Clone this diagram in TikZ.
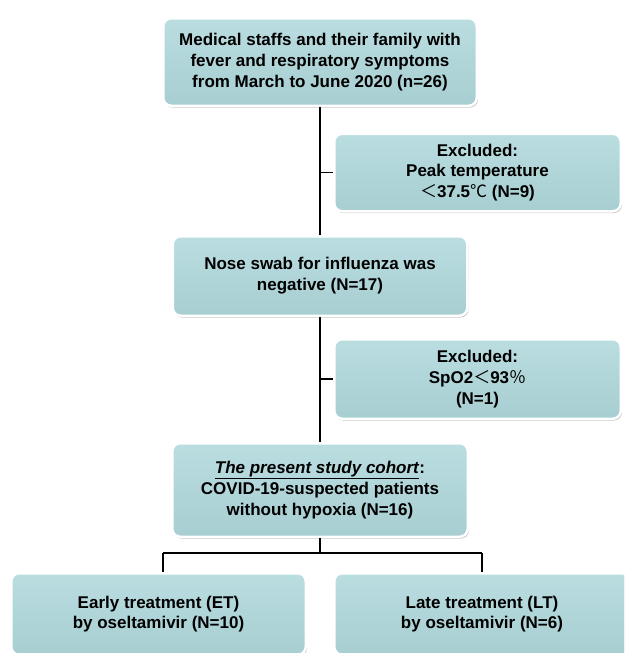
\documentclass[tikz,border=0pt]{standalone}
\usepackage{fontspec}
\setmainfont{Liberation Sans}
\newfontfamily\cjk{Noto Sans CJK SC}
\newcommand{\cjkmd}[1]{{\cjk\mdseries #1}}
\usetikzlibrary{shadows}
\definecolor{boxtop}{HTML}{BADDE0}
\definecolor{boxbot}{HTML}{A7CED1}
\begin{document}
\begin{tikzpicture}[x=1pt,y=-1pt,
  box/.style={rounded corners=8pt, draw=white, line width=2.5pt,
    top color=boxtop, bottom color=boxbot,
    drop shadow={shadow xshift=1.2pt, shadow yshift=-1.8pt, opacity=0.45},
    align=center, inner sep=0pt,
    font=\fontsize{17}{20.8}\selectfont\bfseries},
  conn/.style={line width=1.5pt, black}]
\useasboundingbox (0,0) rectangle (624,653);
\clip (0,0) rectangle (624,653);
\fill[white] (0,0) rectangle (624,653);

\node[box, minimum width=313.5pt, minimum height=87.5pt] (b1) at (320,62)
  {Medical staffs and their family with\\fever and respiratory symptoms\\from March to June 2020 (n=26)};
\node[box, minimum width=286.5pt, minimum height=77.5pt] (b2) at (477.5,172.5)
  {Excluded:\\Peak temperature\\\cjkmd{＜}37.5\cjkmd{℃} (N=9)};
\node[box, minimum width=294.5pt, minimum height=79.5pt] (b3) at (320,276)
  {Nose swab for influenza was\\negative (N=17)};
\node[box, minimum width=286.5pt, minimum height=79.5pt] (b4) at (477.5,379)
  {Excluded:\\SpO2\cjkmd{＜}93\cjkmd{％}\\(N=1)};
\node[box, minimum width=295.5pt, minimum height=93.5pt] (b5) at (320,490)
  {\underline{\textit{The present study cohort}}:\\COVID-19-suspected patients\\without hypoxia (N=16)};
\node[box, minimum width=294.5pt, minimum height=81.5pt] (b6) at (158.5,614)
  {Early treatment (ET)\\by oseltamivir (N=10)};
\node[box, minimum width=295.5pt, minimum height=81.5pt] (b7) at (482,614)
  {Late treatment (LT)\\by oseltamivir (N=6)};

\draw[conn] (b1.south) -- (b3.north);
\draw[conn] (b1.south |- b2.west) -- (b2.west);
\draw[conn] (b3.south) -- (b5.north);
\draw[conn] (b3.south |- b4.west) -- (b4.west);
\coordinate (j) at (320,553);
\coordinate (jl) at (163,553);
\coordinate (jr) at (482,553);
\draw[conn] (b5.south) -- (j);
\draw[conn] (jl) -- (jr);
\draw[conn] (jl) -- (jl |- b6.north);
\draw[conn] (jr) -- (jr |- b7.north);
\end{tikzpicture}
\end{document}
